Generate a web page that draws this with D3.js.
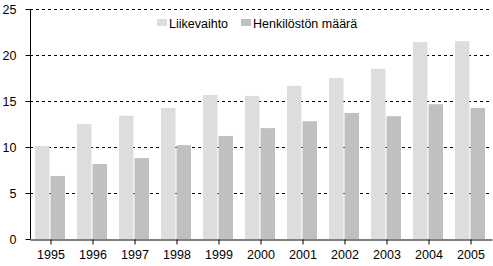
<!DOCTYPE html>
<html>
<head>
<meta charset="utf-8">
<script src="https://cdn.jsdelivr.net/npm/d3@7"></script>
<style>
  body { margin: 0; background: #fff; }
  svg { display: block; font-family: "Liberation Sans", Arial, sans-serif; }
</style>
</head>
<body>
<div id="chart"></div>
<script>
// data
const years = ["1995","1996","1997","1998","1999","2000","2001","2002","2003","2004","2005"];
const liikevaihto = [10.1, 12.5, 13.4, 14.25, 15.65, 15.55, 16.65, 17.5, 18.5, 21.4, 21.5];
const henkilosto = [6.85, 8.15, 8.8, 10.2, 11.2, 12.05, 12.8, 13.7, 13.35, 14.65, 14.25];
const seriesNames = ["Liikevaihto", "Henkilöstön määrä"];
const seriesColors = ["#dddddd", "#c0c0c0"];
const yTicks = [0, 5, 10, 15, 20, 25];

const width = 493, height = 266;
const margin = {top: 9, right: 1, bottom: 27, left: 30};

const svg = d3.select('#chart').append('svg')
  .attr('width', width)
  .attr('height', height);

let x = d3.scaleBand()
  .domain(years)
  .range([margin.left, width - margin.right]);

let x1 = d3.scaleBand()
  .domain([0, 1])
  .range([5, 35])
  .paddingInner(0.07);

let y = d3.scaleLinear()
  .domain([0, 25])
  .range([height - margin.bottom, margin.top]);

//dashed grid lines
svg.append('g')
  .selectAll('line')
  .data(yTicks.filter(d => d > 0))
  .join('line')
  .attr('x1', margin.left)
  .attr('x2', width - margin.right)
  .attr('y1', d => Math.round(y(d)) + 0.5)
  .attr('y2', d => Math.round(y(d)) + 0.5)
  .attr('stroke', '#000')
  .attr('stroke-width', 1)
  .attr('stroke-dasharray', '3,3');

//bars
const rows = years.map((yr, i) => ({year: yr, vals: [liikevaihto[i], henkilosto[i]]}));
svg.append('g')
  .selectAll('g')
  .data(rows)
  .join('g')
  .attr('transform', d => 'translate(' + x(d.year) + ',0)')
  .selectAll('rect')
  .data(d => d.vals.map((v, k) => ({k: k, v: v})))
  .join('rect')
  .attr('x', d => x1(d.k))
  .attr('width', x1.bandwidth())
  .attr('y', d => y(d.v))
  .attr('height', d => y(0) - y(d.v))
  .attr('fill', d => seriesColors[d.k]);

//y axis
const yAxis = svg.append('g')
  .attr('transform', 'translate(' + (margin.left + 0.5) + ',0)')
  .call(d3.axisLeft(y).tickValues(yTicks).tickSize(5).tickPadding(9));
yAxis.select('.domain').attr('d', 'M0,' + y(25) + 'V' + y(0));
yAxis.attr('font-family', null);
yAxis.selectAll('text').style('font-size', '12.5px').attr('fill', '#000');

//x axis
const xAxis = svg.append('g')
  .attr('transform', 'translate(0,' + (y(0) + 0.5) + ')')
  .call(d3.axisBottom(x).tickSize(5).tickSizeOuter(0).tickPadding(6));
xAxis.attr('font-family', null);
xAxis.selectAll('text').style('font-size', '12.5px').attr('fill', '#000');

//legend
const legendX = [157, 241];
const legend = svg.append('g')
  .selectAll('g')
  .data(seriesNames)
  .join('g')
  .attr('transform', (d, i) => 'translate(' + legendX[i] + ',19)');
legend.append('rect')
  .attr('width', 10)
  .attr('height', 7)
  .attr('fill', (d, i) => seriesColors[i]);
legend.append('text')
  .attr('x', 12)
  .attr('y', 9)
  .style('font-size', '12.5px')
  .text(d => d);
</script>
</body>
</html>
